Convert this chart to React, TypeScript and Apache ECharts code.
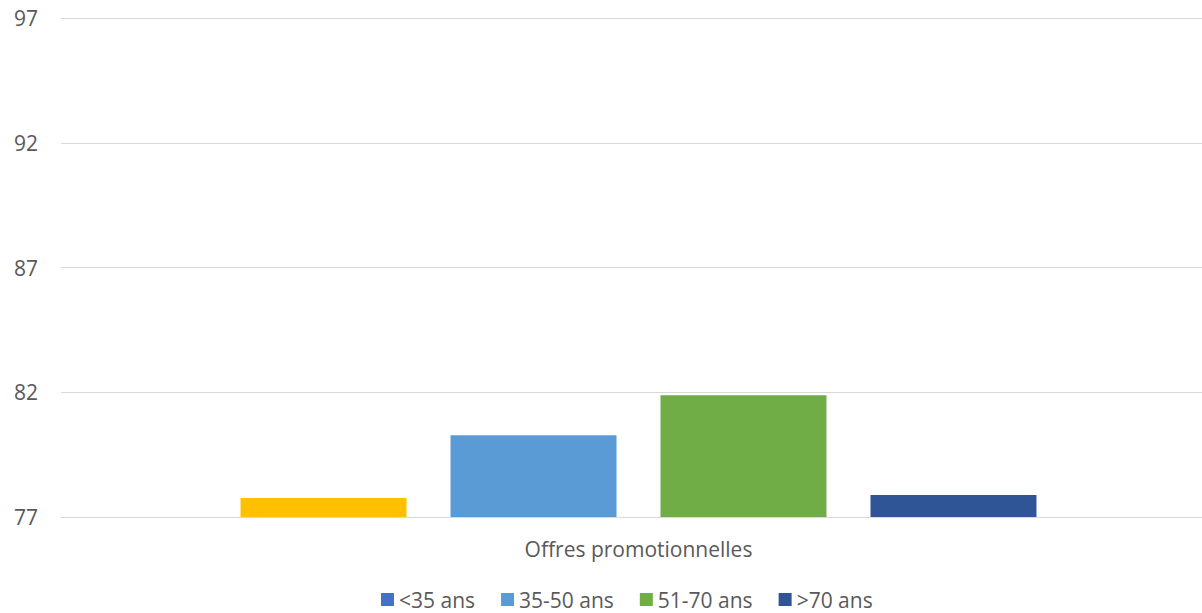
import React, { useEffect, useRef } from "react";
import * as echarts from "echarts";

const categories = ["Offres promotionnelles"];
const seriesNames = ["<35 ans", "35-50 ans", "51-70 ans", ">70 ans"];
const legendColors = ["#4472C4", "#5B9BD5", "#70AD47", "#2F5597"];
const barColors = ["#FFC000", "#5B9BD5", "#70AD47", "#2F5597"];
const values = [77.76, 80.28, 81.88, 77.88];
const yMin = 77;
const yMax = 97;
const yInterval = 5;

export default function App() {
  const ref = useRef<HTMLDivElement>(null);
  useEffect(() => {
    const chart = echarts.init(ref.current!, null, { renderer: "svg" });
    const font = "'Open Sans', sans-serif";
    chart.setOption({
      animation: false,
      grid: { left: 61, width: 1155, top: 18, bottom: 96, containLabel: false, outerBoundsMode: "none" },
      legend: {
        bottom: -2,
        left: 376,
        icon: "rect",
        itemWidth: 13,
        itemHeight: 13,
        itemGap: 26,
        textStyle: { color: "#595959", fontSize: 21, fontFamily: font },
        data: seriesNames,
      },
      xAxis: {
        type: "category",
        data: categories,
        axisLine: { show: true, lineStyle: { color: "#D9D9D9", width: 1 } },
        axisTick: { show: false },
        axisLabel: { color: "#595959", fontSize: 21, fontFamily: font, margin: 21 },
      },
      yAxis: {
        type: "value",
        min: yMin,
        max: yMax,
        interval: yInterval,
        axisLine: { show: false },
        axisTick: { show: false },
        splitLine: { lineStyle: { color: "#D9D9D9", width: 1 } },
        axisLabel: { color: "#595959", fontSize: 21, fontFamily: font, margin: 23 },
      },
      series: seriesNames.map((name, i) => ({
        name,
        type: "bar",
        barWidth: 166,
        barGap: "26.5%",
        itemStyle: { color: legendColors[i] },
        data: [{ value: values[i], itemStyle: { color: barColors[i] } }],
      })),
    });
    return () => chart.dispose();
  }, []);
  return (
    <div
      ref={ref}
      style={{ position: "fixed", left: 0, top: 0, width: 1202, height: 613, background: "#fff" }}
    />
  );
}
